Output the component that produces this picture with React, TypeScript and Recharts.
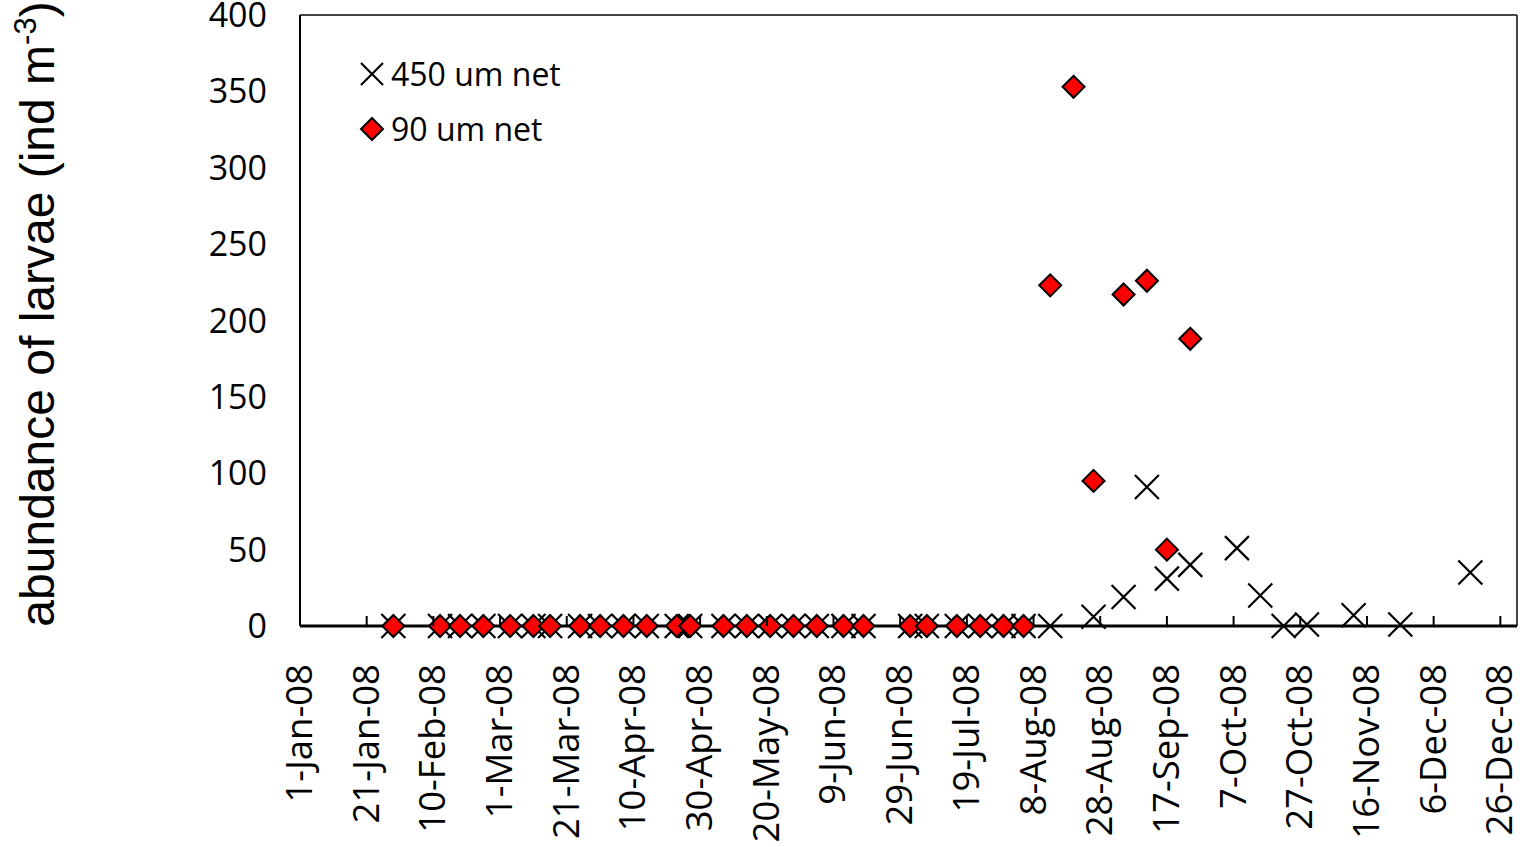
import React from "react";
import { ScatterChart, Scatter, XAxis, YAxis, ReferenceLine, Legend } from "recharts";

// x is day of year counted from 1-Jan-08 (day 0)
const TICK_DAYS = [0, 20, 40, 60, 80, 100, 120, 140, 160, 180, 200, 220, 240, 260, 280, 300, 320, 340, 360];
const TICK_LABELS = [
  "1-Jan-08", "21-Jan-08", "10-Feb-08", "1-Mar-08", "21-Mar-08", "10-Apr-08", "30-Apr-08",
  "20-May-08", "9-Jun-08", "29-Jun-08", "19-Jul-08", "8-Aug-08", "28-Aug-08", "17-Sep-08",
  "7-Oct-08", "27-Oct-08", "16-Nov-08", "6-Dec-08", "26-Dec-08",
];
const Y_TICKS = [0, 50, 100, 150, 200, 250, 300, 350, 400];

// 90 um net
const DAYS_90 = [
  28, 42, 48, 55, 63, 70, 75, 84, 90, 97, 104, 113, 117, 127, 134, 141, 148, 155, 163, 169,
  183, 188, 197, 204, 211, 217, 225, 232, 238, 247, 254, 260, 267,
];
const LARVAE_90 = [
  0, 0, 0, 0, 0, 0, 0, 0, 0, 0, 0, 0, 0, 0, 0, 0, 0, 0, 0, 0,
  0, 0, 0, 0, 0, 0, 223, 353, 95, 217, 226, 50, 188,
];

// 450 um net
const DAYS_450 = [
  28, 42, 48, 55, 63, 70, 75, 84, 90, 97, 104, 113, 117, 127, 134, 141, 148, 155, 163, 169,
  183, 188, 197, 204, 211, 217, 225, 238, 247, 254, 260, 267, 281, 288, 295, 302, 316, 330, 351,
];
const LARVAE_450 = [
  0, 0, 0, 0, 0, 0, 0, 0, 0, 0, 0, 0, 0, 0, 0, 0, 0, 0, 0, 0,
  0, 0, 0, 0, 0, 0, 0, 6, 19, 91, 31, 40, 51, 20, 0, 1, 7, 1, 35,
];

const FONT = "'Open Sans', sans-serif";

const net90 = DAYS_90.map((day, i) => ({ day, value: LARVAE_90[i] }));
const net450 = DAYS_450.map((day, i) => ({ day, value: LARVAE_450[i] }));

function Cross({ cx, cy, r = 12 }: { cx: number; cy: number; r?: number }) {
  return (
    <path
      d={`M${cx - r},${cy - r}L${cx + r},${cy + r}M${cx - r},${cy + r}L${cx + r},${cy - r}`}
      stroke="#000"
      strokeWidth={2.2}
      fill="none"
    />
  );
}

function Diamond({ cx, cy, r = 11 }: { cx: number; cy: number; r?: number }) {
  return (
    <path
      d={`M${cx},${cy - r}L${cx + r},${cy}L${cx},${cy + r}L${cx - r},${cy}Z`}
      fill="#ff0000"
      stroke="#000"
      strokeWidth={2}
    />
  );
}

function DateTick(props: any) {
  const { x, y, index } = props;
  return (
    <g>
      <line x1={x} y1={y} x2={x} y2={y - 10} stroke="#000" strokeWidth={2} />
      <text
        transform={`translate(${x + 12},${y + 38}) rotate(-90)`}
        textAnchor="end"
        fontFamily={FONT}
        fontSize={36.5}
        fill="#000"
      >
        {TICK_LABELS[index]}
      </text>
    </g>
  );
}

function YTitle() {
  return (
    <text
      transform="translate(54,314) rotate(-90)"
      textAnchor="middle"
      fontFamily="'Liberation Sans', Arial, sans-serif"
      fontSize={48}
      fill="#000"
    >
      abundance of larvae (ind m
      <tspan fontSize={31} dy={-18}>-3</tspan>
      <tspan dy={18}>)</tspan>
    </text>
  );
}

function LegendBox() {
  const row: React.CSSProperties = { display: "flex", alignItems: "center", height: 55 };
  return (
    <div style={{ fontFamily: FONT, fontSize: 32, color: "#000" }}>
      <div style={row}>
        <svg width={34} height={34}>
          <Cross cx={17} cy={17} r={11} />
        </svg>
        <span style={{ marginLeft: 2 }}>450 um net</span>
      </div>
      <div style={row}>
        <svg width={34} height={34}>
          <Diamond cx={17} cy={17} r={11} />
        </svg>
        <span style={{ marginLeft: 2 }}>90 um net</span>
      </div>
    </div>
  );
}

export default function App() {
  return (
    <div style={{ position: "absolute", left: 0, top: 0, background: "#fff" }}>
      <ScatterChart width={1520} height={847} margin={{ top: 15, right: 3, bottom: 0, left: 0 }}>
        <XAxis
          type="number"
          dataKey="day"
          domain={[0, 365]}
          ticks={TICK_DAYS}
          interval={0}
          height={221}
          tickSize={0}
          tickMargin={0}
          tick={<DateTick />}
          axisLine={{ stroke: "#000", strokeWidth: 3 }}
          allowDataOverflow
        />
        <YAxis
          type="number"
          dataKey="value"
          domain={[0, 400]}
          ticks={Y_TICKS}
          interval={0}
          width={300}
          tickSize={0}
          tickMargin={33}
          tickLine={false}
          tick={{ fontFamily: FONT, fontSize: 34, fill: "#000" }}
          axisLine={{ stroke: "#000", strokeWidth: 2 }}
          label={{ content: () => <YTitle /> }}
        />
        <ReferenceLine y={400} stroke="#444" strokeWidth={2} />
        <ReferenceLine x={365} stroke="#444" strokeWidth={2} />
        <Legend
          layout="vertical"
          align="center"
          verticalAlign="middle"
          wrapperStyle={{ left: 355, top: 46, width: "auto" }}
          content={() => <LegendBox />}
        />
        <Scatter
          name="450 um net"
          data={net450}
          isAnimationActive={false}
          shape={(p: any) => <Cross cx={p.cx} cy={p.cy} />}
        />
        <Scatter
          name="90 um net"
          data={net90}
          isAnimationActive={false}
          shape={(p: any) => <Diamond cx={p.cx} cy={p.cy} />}
        />
      </ScatterChart>
    </div>
  );
}
